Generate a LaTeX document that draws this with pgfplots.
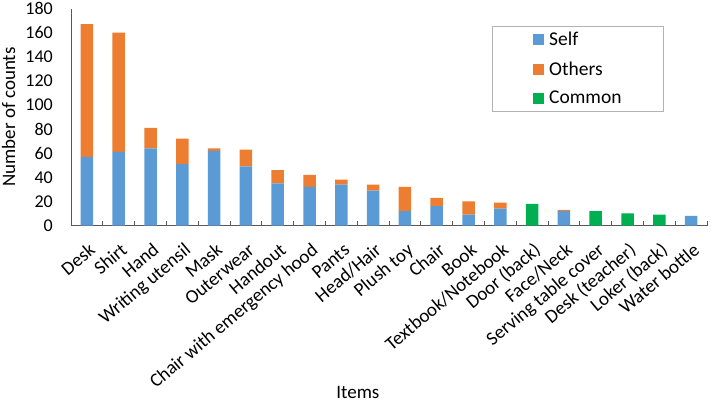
\documentclass[border=0pt]{standalone}
\usepackage{fontspec}
\setmainfont{Carlito}
\usepackage{pgfplots}
\pgfplotsset{compat=1.18}
\definecolor{cself}{HTML}{5B9BD5}
\definecolor{cothers}{HTML}{ED7D31}
\definecolor{ccommon}{HTML}{00B050}
\begin{document}
\begin{tikzpicture}
\begin{axis}[
  at={(0,0)}, anchor=south west,
  scale only axis, width=636pt, height=217pt,
  ybar stacked, bar width=12.5pt,
  xmin=-0.5, xmax=19.5, ymin=0, ymax=180,
  ytick={0,20,...,180},
  xtick={0,...,19},
  minor xtick={-0.5,0.5,...,19.5},
  xticklabels={Desk,Shirt,Hand,Writing utensil,Mask,Outerwear,Handout,Chair with emergency hood,Pants,Head/Hair,Plush toy,Chair,Book,Textbook/Notebook,Door (back),Face/Neck,Serving table cover,Desk (teacher),Loker (back),Water bottle},
  axis x line*=bottom, axis y line*=left,
  axis line style={-, draw=black!65, line width=0.8pt},
  major tick length=0pt, minor tick length=4.5pt, tick align=inside,
  minor tick style={draw=black!65, line width=0.8pt},
  /pgf/number format/assume math mode=true,
  yticklabel style={font=\fontsize{18}{21}\selectfont, inner sep=0pt, xshift=-18pt},
  xticklabel style={font=\fontsize{19}{22}\selectfont, inner sep=0pt, text height=0.75em, text depth=0.25em, anchor=east, xshift=8pt, yshift=-24.6pt, rotate=40},
  every axis y label/.style={at={(axis description cs:-0.098,0.5)}, rotate=90, anchor=center, font=\fontsize{19}{22}\selectfont},
  every axis x label/.style={at={(axis description cs:0.451,-0.77)}, anchor=center, font=\fontsize{19}{22}\selectfont},
  ylabel={Number of counts}, xlabel={Items},
  legend style={at={(axis description cs:0.662,0.920)}, anchor=north west, draw=black!30, fill=white,
    inner xsep=41pt, inner ysep=5pt, row sep=12.5pt, font=\fontsize{19.5}{22}\selectfont,
    nodes={inner sep=1pt}},
  legend cell align=left,
]
\addplot[fill=cself, draw=none, legend image code/.code={\fill[cself] (0pt,-5.5pt) rectangle (11pt,5.5pt); \path (15pt,0pt);}] coordinates {
(0,57) (1,61) (2,64) (3,51) (4,62) (5,49) (6,35) (7,32) (8,34) (9,29) (10,12) (11,16) (12,9) (13,14) (14,0) (15,12) (16,0) (17,0) (18,0) (19,8)};
\addplot[fill=cothers, draw=none, legend image code/.code={\fill[cothers] (0pt,-5.5pt) rectangle (11pt,5.5pt); \path (15pt,0pt);}] coordinates {
(0,110) (1,99) (2,17) (3,21) (4,2) (5,14) (6,11) (7,10) (8,4) (9,5) (10,20) (11,7) (12,11) (13,5) (14,0) (15,1) (16,0) (17,0) (18,0) (19,0)};
\addplot[fill=ccommon, draw=none, legend image code/.code={\fill[ccommon] (0pt,-5.5pt) rectangle (11pt,5.5pt); \path (15pt,0pt);}] coordinates {
(0,0) (1,0) (2,0) (3,0) (4,0) (5,0) (6,0) (7,0) (8,0) (9,0) (10,0) (11,0) (12,0) (13,0) (14,18) (15,0) (16,12) (17,10) (18,9) (19,0)};
\legend{Self,Others,Common}
\end{axis}
\pgfresetboundingbox
\path (-71pt,-176.5pt) rectangle (640pt,225.5pt);
\end{tikzpicture}
\end{document}
